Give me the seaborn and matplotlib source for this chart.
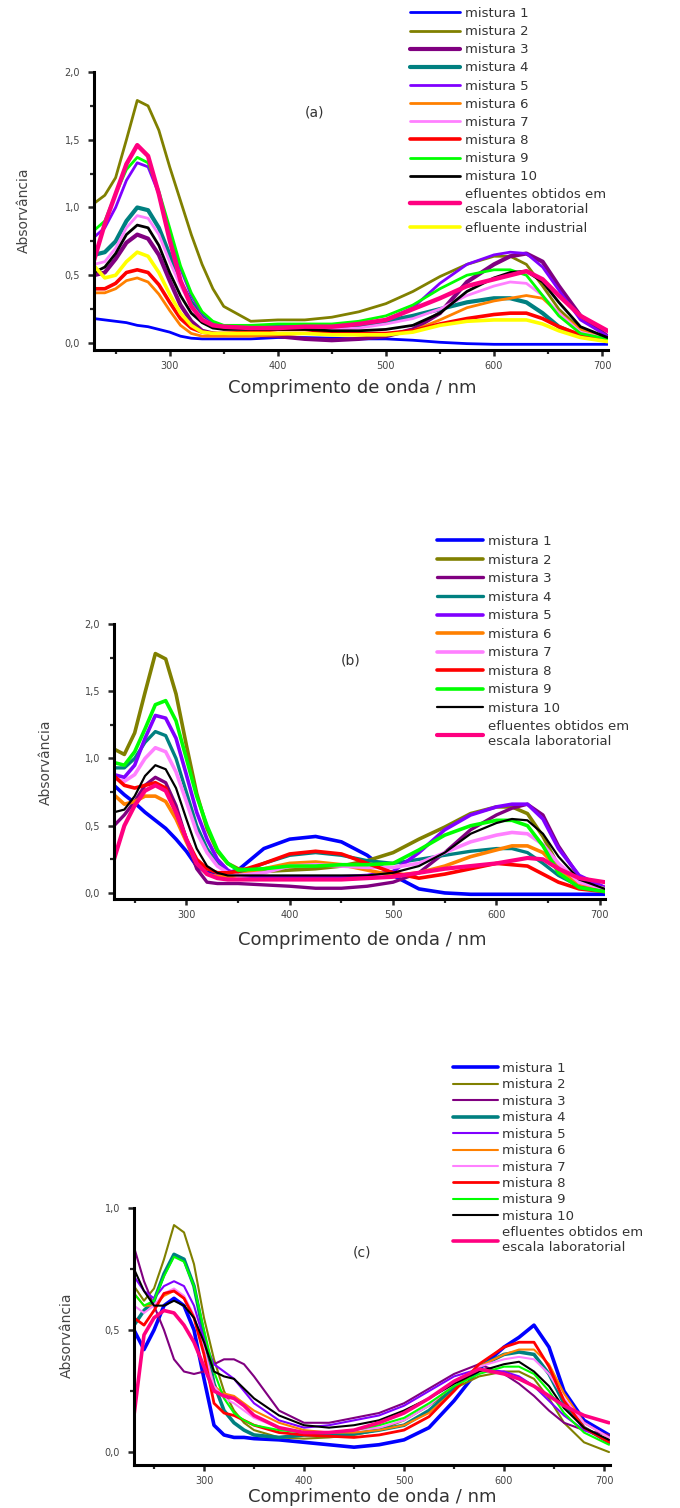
import matplotlib
matplotlib.use("Agg")
import matplotlib.pyplot as plt
from matplotlib.ticker import MultipleLocator, FuncFormatter
import seaborn as sns

# ---------------- data ----------------
wavelength = [230, 240, 250, 260, 270, 280, 290, 300, 310, 320, 330, 340, 350,
              375, 400, 425, 450, 475, 500, 525, 550, 575, 600, 615, 630, 645,
              660, 680, 705]

labels_a = ["mistura 1", "mistura 2", "mistura 3", "mistura 4", "mistura 5",
            "mistura 6", "mistura 7", "mistura 8", "mistura 9", "mistura 10",
            "efluentes obtidos em\nescala laboratorial", "efluente industrial"]
labels_bc = labels_a[:11]

colors = ["#0000FF", "#808000", "#800080", "#008080", "#8000FF", "#FF8000",
          "#FF80FF", "#FF0000", "#00FF00", "#000000", "#FF0080", "#FFFF00"]

# panel (a)
a_m1 = [0.18, 0.17, 0.16, 0.15, 0.13, 0.12, 0.10, 0.08, 0.05, 0.035, 0.03, 0.03, 0.03, 0.03, 0.04, 0.04, 0.035, 0.03, 0.03, 0.02, 0.005, -0.005, -0.01, -0.01, -0.01, -0.01, -0.01, -0.01, -0.01]
a_m2 = [1.03, 1.09, 1.22, 1.50, 1.79, 1.75, 1.57, 1.30, 1.05, 0.80, 0.58, 0.40, 0.27, 0.16, 0.17, 0.17, 0.19, 0.23, 0.29, 0.38, 0.49, 0.58, 0.64, 0.64, 0.58, 0.42, 0.25, 0.10, 0.03]
a_m3 = [0.50, 0.52, 0.62, 0.74, 0.80, 0.77, 0.65, 0.46, 0.28, 0.16, 0.09, 0.07, 0.06, 0.06, 0.05, 0.03, 0.02, 0.03, 0.05, 0.10, 0.22, 0.45, 0.58, 0.64, 0.66, 0.60, 0.42, 0.20, 0.05]
a_m4 = [0.65, 0.67, 0.75, 0.90, 1.00, 0.98, 0.85, 0.65, 0.45, 0.30, 0.20, 0.14, 0.12, 0.12, 0.12, 0.12, 0.12, 0.13, 0.16, 0.20, 0.25, 0.30, 0.33, 0.33, 0.30, 0.22, 0.12, 0.05, 0.02]
a_m5 = [0.78, 0.85, 1.00, 1.20, 1.33, 1.30, 1.10, 0.82, 0.55, 0.35, 0.22, 0.15, 0.12, 0.12, 0.12, 0.12, 0.13, 0.14, 0.17, 0.26, 0.44, 0.58, 0.65, 0.67, 0.66, 0.56, 0.39, 0.17, 0.05]
a_m6 = [0.37, 0.37, 0.40, 0.46, 0.48, 0.45, 0.36, 0.24, 0.13, 0.07, 0.05, 0.05, 0.05, 0.05, 0.06, 0.07, 0.07, 0.06, 0.06, 0.09, 0.17, 0.26, 0.31, 0.33, 0.35, 0.33, 0.22, 0.10, 0.03]
a_m7 = [0.58, 0.60, 0.70, 0.85, 0.94, 0.92, 0.80, 0.60, 0.42, 0.28, 0.18, 0.13, 0.10, 0.10, 0.10, 0.10, 0.10, 0.11, 0.14, 0.18, 0.25, 0.35, 0.42, 0.45, 0.44, 0.35, 0.22, 0.08, 0.03]
a_m8 = [0.40, 0.40, 0.44, 0.52, 0.54, 0.52, 0.43, 0.30, 0.18, 0.11, 0.08, 0.07, 0.07, 0.08, 0.10, 0.10, 0.08, 0.07, 0.07, 0.09, 0.14, 0.18, 0.21, 0.22, 0.22, 0.18, 0.12, 0.06, 0.02]
a_m9 = [0.83, 0.90, 1.10, 1.28, 1.37, 1.33, 1.12, 0.85, 0.57, 0.37, 0.23, 0.16, 0.13, 0.13, 0.14, 0.14, 0.14, 0.16, 0.20, 0.28, 0.40, 0.50, 0.54, 0.54, 0.50, 0.35, 0.20, 0.07, 0.03]
a_m10 = [0.52, 0.56, 0.66, 0.80, 0.87, 0.85, 0.72, 0.52, 0.35, 0.22, 0.15, 0.11, 0.10, 0.10, 0.10, 0.10, 0.09, 0.09, 0.10, 0.13, 0.22, 0.38, 0.48, 0.52, 0.53, 0.45, 0.30, 0.12, 0.04]
a_ef = [0.61, 0.88, 1.10, 1.32, 1.46, 1.38, 1.10, 0.76, 0.46, 0.27, 0.17, 0.13, 0.12, 0.11, 0.11, 0.12, 0.12, 0.14, 0.17, 0.25, 0.33, 0.42, 0.47, 0.50, 0.53, 0.47, 0.35, 0.20, 0.09]
a_ind = [0.57, 0.48, 0.50, 0.60, 0.67, 0.64, 0.52, 0.36, 0.22, 0.13, 0.08, 0.07, 0.07, 0.07, 0.07, 0.07, 0.06, 0.06, 0.06, 0.08, 0.13, 0.16, 0.17, 0.17, 0.17, 0.14, 0.09, 0.04, 0.01]

# panel (b)
b_m1 = [0.80, 0.73, 0.67, 0.60, 0.54, 0.48, 0.40, 0.31, 0.20, 0.15, 0.15, 0.15, 0.17, 0.33, 0.40, 0.42, 0.38, 0.28, 0.13, 0.03, 0.00, -0.01, -0.01, -0.01, -0.01, -0.01, -0.01, -0.01, -0.01]
b_m2 = [1.07, 1.03, 1.19, 1.49, 1.78, 1.74, 1.48, 1.10, 0.74, 0.48, 0.31, 0.22, 0.18, 0.16, 0.17, 0.18, 0.20, 0.24, 0.30, 0.40, 0.49, 0.59, 0.64, 0.64, 0.59, 0.42, 0.20, 0.07, 0.02]
b_m3 = [0.50, 0.58, 0.68, 0.80, 0.86, 0.82, 0.65, 0.40, 0.18, 0.08, 0.07, 0.07, 0.07, 0.06, 0.05, 0.035, 0.035, 0.05, 0.08, 0.15, 0.30, 0.47, 0.58, 0.63, 0.66, 0.58, 0.35, 0.12, 0.04]
b_m4 = [0.93, 0.93, 1.00, 1.12, 1.20, 1.17, 1.00, 0.75, 0.50, 0.33, 0.22, 0.16, 0.14, 0.22, 0.28, 0.30, 0.28, 0.24, 0.22, 0.25, 0.28, 0.31, 0.33, 0.33, 0.30, 0.22, 0.13, 0.05, 0.02]
b_m5 = [0.88, 0.86, 0.95, 1.15, 1.32, 1.30, 1.15, 0.88, 0.60, 0.40, 0.25, 0.17, 0.13, 0.12, 0.12, 0.12, 0.12, 0.13, 0.16, 0.30, 0.47, 0.58, 0.64, 0.66, 0.66, 0.55, 0.33, 0.13, 0.04]
b_m6 = [0.73, 0.66, 0.68, 0.72, 0.72, 0.68, 0.55, 0.38, 0.22, 0.14, 0.12, 0.12, 0.13, 0.18, 0.22, 0.23, 0.21, 0.17, 0.13, 0.15, 0.20, 0.27, 0.32, 0.35, 0.35, 0.30, 0.18, 0.07, 0.03]
b_m7 = [0.85, 0.83, 0.88, 1.00, 1.08, 1.05, 0.90, 0.68, 0.45, 0.30, 0.20, 0.15, 0.13, 0.15, 0.20, 0.21, 0.20, 0.19, 0.19, 0.22, 0.30, 0.38, 0.43, 0.45, 0.44, 0.36, 0.22, 0.08, 0.03]
b_m8 = [0.87, 0.80, 0.78, 0.80, 0.82, 0.78, 0.60, 0.40, 0.25, 0.18, 0.15, 0.15, 0.16, 0.22, 0.29, 0.31, 0.29, 0.22, 0.15, 0.11, 0.14, 0.18, 0.22, 0.21, 0.20, 0.14, 0.08, 0.03, 0.01]
b_m9 = [0.97, 0.95, 1.05, 1.22, 1.40, 1.43, 1.28, 1.00, 0.72, 0.50, 0.32, 0.22, 0.17, 0.18, 0.20, 0.20, 0.21, 0.21, 0.22, 0.32, 0.43, 0.50, 0.54, 0.54, 0.50, 0.35, 0.15, 0.04, 0.01]
b_m10 = [0.60, 0.62, 0.72, 0.87, 0.95, 0.92, 0.78, 0.55, 0.33, 0.20, 0.15, 0.13, 0.13, 0.13, 0.13, 0.13, 0.13, 0.13, 0.15, 0.20, 0.30, 0.44, 0.52, 0.55, 0.54, 0.44, 0.27, 0.10, 0.03]
b_ef = [0.25, 0.50, 0.65, 0.76, 0.80, 0.76, 0.60, 0.40, 0.22, 0.14, 0.11, 0.10, 0.10, 0.10, 0.10, 0.10, 0.10, 0.11, 0.12, 0.15, 0.18, 0.20, 0.22, 0.24, 0.26, 0.25, 0.18, 0.11, 0.08]

# panel (c)
c_m1 = [0.50, 0.42, 0.50, 0.60, 0.63, 0.60, 0.50, 0.30, 0.11, 0.07, 0.06, 0.06, 0.055, 0.05, 0.04, 0.03, 0.02, 0.03, 0.05, 0.10, 0.21, 0.34, 0.43, 0.47, 0.52, 0.43, 0.25, 0.13, 0.07]
c_m2 = [0.68, 0.62, 0.67, 0.79, 0.93, 0.90, 0.77, 0.55, 0.38, 0.25, 0.17, 0.12, 0.09, 0.06, 0.055, 0.06, 0.07, 0.09, 0.13, 0.19, 0.26, 0.31, 0.33, 0.33, 0.30, 0.22, 0.12, 0.04, 0.00]
c_m3 = [0.84, 0.70, 0.60, 0.50, 0.38, 0.33, 0.32, 0.33, 0.36, 0.38, 0.38, 0.36, 0.31, 0.17, 0.12, 0.12, 0.14, 0.16, 0.20, 0.26, 0.32, 0.36, 0.32, 0.28, 0.23, 0.17, 0.12, 0.09, 0.07]
c_m4 = [0.52, 0.58, 0.62, 0.73, 0.81, 0.79, 0.68, 0.48, 0.28, 0.17, 0.12, 0.09, 0.07, 0.06, 0.07, 0.07, 0.075, 0.09, 0.11, 0.17, 0.26, 0.35, 0.40, 0.41, 0.40, 0.32, 0.20, 0.10, 0.04]
c_m5 = [0.72, 0.66, 0.63, 0.68, 0.70, 0.68, 0.60, 0.46, 0.36, 0.33, 0.30, 0.25, 0.20, 0.13, 0.10, 0.11, 0.13, 0.15, 0.19, 0.25, 0.31, 0.34, 0.33, 0.31, 0.27, 0.21, 0.15, 0.09, 0.05]
c_m6 = [0.65, 0.60, 0.60, 0.64, 0.66, 0.63, 0.55, 0.42, 0.27, 0.24, 0.23, 0.20, 0.17, 0.12, 0.09, 0.08, 0.08, 0.09, 0.11, 0.16, 0.25, 0.35, 0.40, 0.42, 0.42, 0.36, 0.24, 0.12, 0.06]
c_m7 = [0.60, 0.57, 0.60, 0.65, 0.67, 0.64, 0.56, 0.42, 0.27, 0.22, 0.20, 0.17, 0.14, 0.10, 0.08, 0.08, 0.09, 0.10, 0.13, 0.19, 0.28, 0.35, 0.38, 0.39, 0.38, 0.32, 0.22, 0.12, 0.06]
c_m8 = [0.55, 0.52, 0.58, 0.65, 0.66, 0.63, 0.55, 0.40, 0.20, 0.16, 0.15, 0.13, 0.11, 0.08, 0.07, 0.065, 0.06, 0.07, 0.09, 0.145, 0.25, 0.36, 0.43, 0.45, 0.45, 0.35, 0.21, 0.10, 0.04]
c_m9 = [0.65, 0.60, 0.62, 0.72, 0.80, 0.78, 0.68, 0.50, 0.33, 0.22, 0.16, 0.13, 0.11, 0.09, 0.08, 0.08, 0.09, 0.11, 0.14, 0.20, 0.27, 0.32, 0.35, 0.35, 0.32, 0.25, 0.16, 0.08, 0.03]
c_m10 = [0.75, 0.66, 0.60, 0.60, 0.62, 0.60, 0.55, 0.45, 0.33, 0.31, 0.30, 0.26, 0.22, 0.15, 0.11, 0.10, 0.11, 0.13, 0.17, 0.22, 0.28, 0.33, 0.36, 0.37, 0.33, 0.27, 0.18, 0.10, 0.05]
c_ef = [0.15, 0.48, 0.55, 0.58, 0.57, 0.52, 0.45, 0.35, 0.25, 0.23, 0.22, 0.19, 0.15, 0.10, 0.08, 0.08, 0.09, 0.12, 0.16, 0.22, 0.29, 0.34, 0.32, 0.30, 0.27, 0.23, 0.19, 0.15, 0.12]

series_a = [a_m1, a_m2, a_m3, a_m4, a_m5, a_m6, a_m7, a_m8, a_m9, a_m10, a_ef, a_ind]
series_b = [b_m1, b_m2, b_m3, b_m4, b_m5, b_m6, b_m7, b_m8, b_m9, b_m10, b_ef]
series_c = [c_m1, c_m2, c_m3, c_m4, c_m5, c_m6, c_m7, c_m8, c_m9, c_m10, c_ef]

# ---------------- style ----------------
sns.set_style("ticks")
plt.rcParams['font.family'] = ['DejaVu Sans']

W, H = 680, 1508
fig = plt.figure(figsize=(W / 100, H / 100), dpi=100)
fig.patch.set_facecolor("white")


def rect(left, right, top, bottom):
    return [left / W, 1 - bottom / H, (right - left) / W, (bottom - top) / H]


comma = FuncFormatter(lambda v, p: f"{v:.1f}".replace(".", ","))


def panel(r, series, labels, widths, ylim, ymajor, tag, tag_xy,
          ylab_xy, xlab_xy, leg_xy, leg_spacing, leg_handle, xlim):
    ax = fig.add_axes(r)
    ax.set_facecolor("white")
    for vals, lab, col, lw in zip(series, labels, colors, widths):
        sns.lineplot(x=wavelength, y=vals, ax=ax, color=col, lw=lw,
                     label=lab, estimator=None, sort=False)
    ax.set_xlim(*xlim)
    ax.set_ylim(*ylim)
    ax.xaxis.set_major_locator(MultipleLocator(100))
    ax.xaxis.set_minor_locator(MultipleLocator(50))
    ax.yaxis.set_major_locator(MultipleLocator(ymajor))
    ax.yaxis.set_minor_locator(MultipleLocator(ymajor / 2))
    ax.yaxis.set_major_formatter(comma)
    ax.set_xticks([300, 400, 500, 600, 700])
    ax.set_yticks([v * ymajor for v in range(int(round(ylim[1] / ymajor)) + 1)])
    ax.set_xlabel("")
    ax.set_ylabel("")
    sns.despine(ax=ax)
    for s in ("left", "bottom"):
        ax.spines[s].set_linewidth(2.2)
        ax.spines[s].set_color("black")
    ax.tick_params(which="major", direction="out", length=4, width=1.8,
                   labelsize=7, labelcolor="#444444", pad=4)
    ax.tick_params(which="minor", direction="out", length=3, width=1.6)
    ax.tick_params(axis="y", which="major", pad=6)
    fig.text(tag_xy[0] / W, 1 - tag_xy[1] / H, tag, fontsize=10,
             color="#333333", ha="center", va="center")
    fig.text(ylab_xy[0] / W, 1 - ylab_xy[1] / H, "Absorvância", fontsize=10,
             color="#444444", rotation=90, ha="center", va="center")
    fig.text(xlab_xy[0] / W, 1 - xlab_xy[1] / H, "Comprimento de onda / nm",
             fontsize=13, color="#333333", ha="center", va="center")
    leg = ax.legend(loc="upper left",
                    bbox_to_anchor=(leg_xy[0] / W, 1 - leg_xy[1] / H),
                    bbox_transform=fig.transFigure, frameon=False,
                    fontsize=9.5, handlelength=leg_handle, handletextpad=0.35,
                    labelspacing=leg_spacing, borderpad=0, borderaxespad=0)
    for t in leg.get_texts():
        t.set_color("#333333")
    return ax


widths_a = [2.0, 2.0, 3.0, 3.0, 2.0, 2.0, 2.0, 2.6, 2.0, 2.0, 3.2, 2.6]
widths_b = [2.6, 2.6, 2.4, 2.4, 2.6, 2.6, 2.6, 2.6, 2.6, 1.6, 3.0]
widths_c = [2.6, 1.5, 1.5, 2.6, 1.5, 1.5, 1.5, 2.0, 1.5, 1.5, 2.6]

panel(rect(94, 608, 72, 350), series_a, labels_a, widths_a,
      (-0.052, 2.0), 0.5, "(a)", (314, 112), (24, 210), (352, 388),
      (410, 7), 0.39, 3.8, (230, 705.5))

panel(rect(114, 605, 624, 899), series_b, labels_bc, widths_b,
      (-0.045, 2.0), 0.5, "(b)", (351, 660), (46, 762), (362, 940),
      (437, 535), 0.42, 3.5, (230, 705))

panel(rect(134, 610, 1208, 1465), series_c, labels_bc, widths_c,
      (-0.053, 1.0), 0.5, "(c)", (362, 1253), (67, 1335), (372, 1497),
      (453, 1062), 0.26, 3.4, (230, 706))

fig.savefig("out.png", dpi=100, facecolor="white")
